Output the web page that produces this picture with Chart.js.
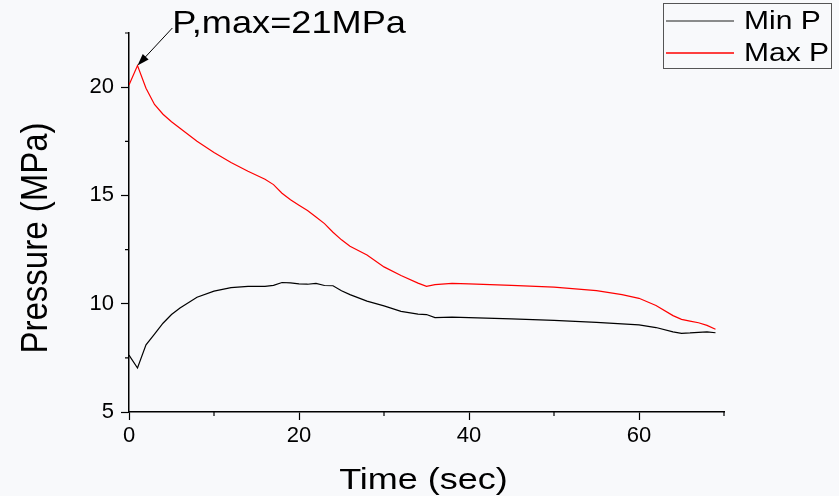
<!DOCTYPE html>
<html>
<head>
<meta charset="utf-8">
<script src="https://cdn.jsdelivr.net/npm/chart.js@4/dist/chart.umd.min.js"></script>
<style>
  html, body { margin: 0; padding: 0; background: #f8f9fb; }
  #wrap { width: 839px; height: 496px; }
</style>
</head>
<body>
<div id="wrap"><canvas id="pressureChart" width="839" height="496"></canvas></div>
<script>
// ── Data ─────────────────────────────────────────────────────────────────────
const timeSec = [0, 1, 2, 3, 4, 5, 6, 8, 10, 12, 14, 16, 17, 18, 19, 20, 21, 22, 23, 24, 25, 26, 28, 30, 32, 34, 35, 36, 38, 40, 45, 50, 55, 58, 60, 62, 64, 65, 66, 67, 68, 69];
const minP = [7.63, 7.03, 8.1, 8.6, 9.1, 9.5, 9.8, 10.3, 10.58, 10.74, 10.8, 10.8, 10.85, 10.98, 10.96, 10.92, 10.9, 10.94, 10.84, 10.83, 10.6, 10.42, 10.12, 9.9, 9.65, 9.52, 9.5, 9.36, 9.38, 9.36, 9.3, 9.23, 9.14, 9.07, 9.02, 8.9, 8.7, 8.63, 8.65, 8.68, 8.7, 8.66];
const maxP = [20.1, 21.0, 19.95, 19.2, 18.75, 18.4, 18.1, 17.5, 16.98, 16.52, 16.12, 15.75, 15.5, 15.1, 14.8, 14.55, 14.3, 14.0, 13.7, 13.3, 12.95, 12.65, 12.25, 11.7, 11.3, 10.95, 10.8, 10.88, 10.94, 10.92, 10.85, 10.77, 10.6, 10.42, 10.25, 9.92, 9.45, 9.28, 9.2, 9.12, 9.0, 8.82];

const seriesNames = ['Min P', 'Max P'];
const seriesColors = ['#000000', '#ff0000'];
const legendColors = ['#666666', '#ff0000'];

const xMajor = [0, 20, 40, 60];
const xMinor = [10, 30, 50, 70];
const yMajor = [5, 10, 15, 20];
const yMinor = [7.5, 12.5, 17.5, 22.5];

const peakTime = 1;
const peakValue = 21;
const peakLabel = 'P,max=21MPa';
const peakLabelAt = [5.1, 22.5]; // time, pressure of the label's lower-left corner

const FONT = '"Liberation Sans", Arial, sans-serif';

// stretched text helper (reference text is a bit wide)
function wideText(ctx, text, x, y, size, sx, align) {
  ctx.save();
  ctx.translate(x, y);
  ctx.scale(sx, 1);
  ctx.font = size + 'px ' + FONT;
  ctx.textAlign = align || 'left';
  ctx.textBaseline = 'alphabetic';
  ctx.fillStyle = '#000';
  ctx.fillText(text, 0, 0);
  ctx.restore();
}

// ── Extras: minor ticks, titles, legend, peak note ───────────────────────────
const extras = {
  id: 'extras',
  afterDraw(chart) {
    const { ctx, scales: { x, y }, chartArea: a } = chart;
    ctx.save();
    ctx.strokeStyle = '#000';
    ctx.lineWidth = 1.2;
    ctx.beginPath();
    xMinor.forEach(v => { const p = x.getPixelForValue(v); ctx.moveTo(p, a.bottom); ctx.lineTo(p, a.bottom + 4); });
    yMinor.forEach(v => { const p = y.getPixelForValue(v); ctx.moveTo(a.left, p); ctx.lineTo(a.left - 4, p); });
    ctx.stroke();

    // axis titles
    wideText(ctx, 'Time (sec)', (a.left + a.right) / 2 - 3, 489, 30, 1.2, 'center');
    ctx.save();
    ctx.translate(47, 238);
    ctx.scale(1.1, 1);
    ctx.rotate(-Math.PI / 2);
    ctx.font = '33px ' + FONT;
    ctx.textAlign = 'center';
    ctx.fillStyle = '#000';
    ctx.fillText('Pressure (MPa)', 0, 0);
    ctx.restore();

    // legend box
    ctx.strokeStyle = '#555';
    ctx.lineWidth = 1;
    ctx.strokeRect(663.5, 3.5, 168, 65);
    seriesNames.forEach((name, i) => {
      const ly = 21 + i * 32;
      ctx.beginPath();
      ctx.strokeStyle = legendColors[i];
      ctx.lineWidth = 1.4;
      ctx.moveTo(666, ly);
      ctx.lineTo(734, ly);
      ctx.stroke();
      wideText(ctx, name, 744, ly + 8, 25, 1.2);
    });

    // peak annotation
    const px = x.getPixelForValue(peakTime), py = y.getPixelForValue(peakValue);
    const tx = x.getPixelForValue(peakLabelAt[0]), ty = y.getPixelForValue(peakLabelAt[1]);
    const sx = tx, sy = ty - 5;
    const ang = Math.atan2(py - sy, px - sx);
    ctx.strokeStyle = '#000';
    ctx.lineWidth = 1;
    ctx.beginPath();
    ctx.moveTo(sx, sy);
    ctx.lineTo(px - 8 * Math.cos(ang), py - 8 * Math.sin(ang));
    ctx.stroke();
    ctx.fillStyle = '#000';
    ctx.beginPath();
    ctx.moveTo(px, py);
    ctx.lineTo(px - 12 * Math.cos(ang) + 4 * Math.sin(ang), py - 12 * Math.sin(ang) - 4 * Math.cos(ang));
    ctx.lineTo(px - 12 * Math.cos(ang) - 4 * Math.sin(ang), py - 12 * Math.sin(ang) + 4 * Math.cos(ang));
    ctx.closePath();
    ctx.fill();
    wideText(ctx, peakLabel, tx, ty, 32, 1.13);
    ctx.restore();
  }
};

// ── Chart ────────────────────────────────────────────────────────────────────
new Chart(document.getElementById('pressureChart'), {
  type: 'line',
  data: {
    datasets: [minP, maxP].map((vals, k) => ({
      label: seriesNames[k],
      data: timeSec.map((t, i) => ({ x: t, y: vals[i] })),
      borderColor: seriesColors[k], borderWidth: 1.2, tension: 0,
    }))
  },
  options: {
    responsive: false, animation: false,
    layout: { padding: { top: 33, right: 115, left: 0, bottom: 0 } },
    elements: { point: { radius: 0 } },
    plugins: { legend: { display: false }, tooltip: { enabled: false } },
    scales: {
      x: {
        type: 'linear', min: 0, max: 70,
        afterFit: s => { s.height = 84; },
        border: { color: '#000', width: 1.5 },
        grid: { drawOnChartArea: false, tickLength: 8, tickWidth: 1.2,
                tickColor: c => xMajor.includes(c.tick.value) ? '#000' : 'rgba(0,0,0,0)' },
        ticks: { stepSize: 10, autoSkip: false, maxRotation: 0, padding: 3, color: '#000',
                 font: { family: FONT, size: 22 },
                 callback: v => xMajor.includes(v) ? v : '' }
      },
      y: {
        min: 5, max: 22.5,
        afterFit: s => { s.width = 129; },
        border: { color: '#000', width: 1.5 },
        grid: { drawOnChartArea: false, tickLength: 8, tickWidth: 1.2,
                tickColor: c => yMajor.includes(c.tick.value) ? '#000' : 'rgba(0,0,0,0)' },
        ticks: { stepSize: 2.5, autoSkip: false, padding: 7, color: '#000',
                 font: { family: FONT, size: 22 },
                 callback: v => yMajor.includes(v) ? v : '' }
      }
    }
  },
  plugins: [extras]
});
</script>
</body>
</html>
